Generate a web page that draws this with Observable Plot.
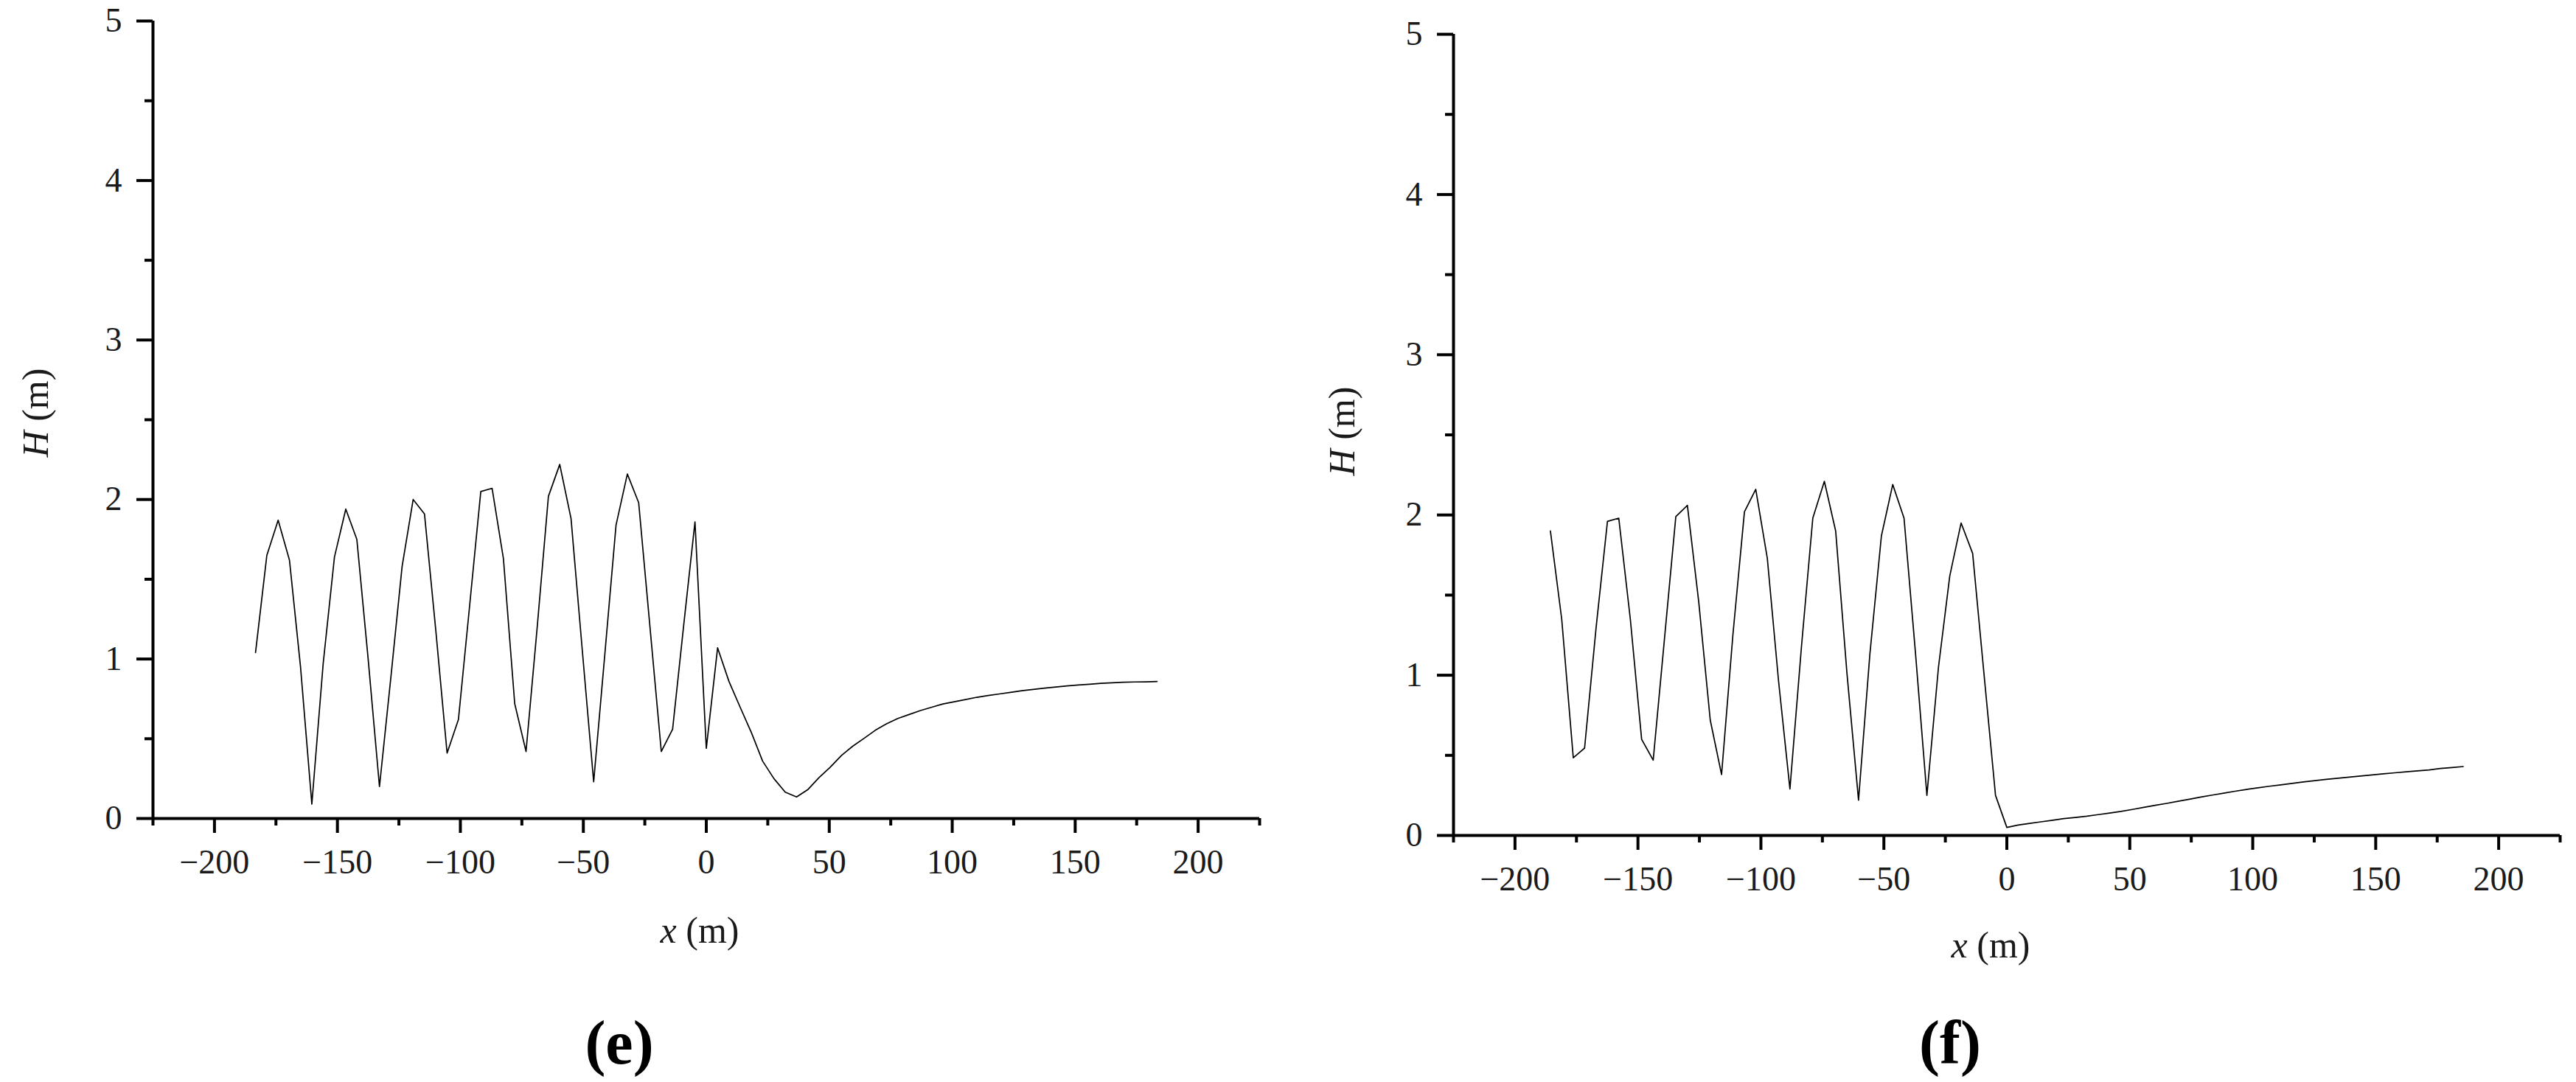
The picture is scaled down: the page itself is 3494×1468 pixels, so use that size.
<!DOCTYPE html>
<html>
<head>
<meta charset="utf-8">
<script src="https://cdn.jsdelivr.net/npm/d3@7"></script>
<script src="https://cdn.jsdelivr.net/npm/@observablehq/plot@0.6"></script>
<style>
  html, body { margin: 0; padding: 0; background: #fff; }
  #wrap { position: relative; width: 3494px; height: 1468px; overflow: hidden; background: #fff; }
  .panel { position: absolute; top: 0; }
  .lbl { position: absolute; font-family: "Liberation Serif", "DejaVu Serif", serif; color: #1a1a1a; white-space: nowrap; }
  .cap { position: absolute; font-family: "Liberation Serif", "DejaVu Serif", serif; font-weight: bold; color: #000; white-space: nowrap; }
</style>
</head>
<body>
<div id="wrap"></div>
<script>
// ---- data: panel (e) ----
const xE = [-183.3,-178.7,-174.1,-169.5,-165.0,-160.4,-155.8,-151.2,-146.6,-142.1,-137.5,-132.9,-128.3,-123.7,-119.2,-114.6,-110.0,-105.4,-100.8,-96.2,-91.7,-87.1,-82.5,-77.9,-73.3,-68.7,-64.2,-59.6,-55.0,-50.4,-45.8,-41.2,-36.7,-32.1,-27.5,-22.9,-18.3,-13.7,-9.2,-4.6,0.0,4.6,9.2,13.7,18.3,22.9,27.5,32.1,36.7,41.2,45.8,50.4,55.0,59.6,64.2,68.7,73.3,77.9,82.5,87.1,91.7,96.2,100.8,105.4,110.0,114.6,119.2,123.7,128.3,132.9,137.5,142.1,146.6,151.2,155.8,160.4,165.0,169.5,174.1,178.7,183.3];
const hE = [1.04,1.65,1.87,1.62,0.95,0.09,0.97,1.64,1.94,1.75,1.00,0.20,0.88,1.58,2.00,1.91,1.18,0.41,0.62,1.34,2.05,2.07,1.63,0.72,0.42,1.21,2.02,2.22,1.88,1.05,0.23,1.04,1.84,2.16,1.98,1.20,0.42,0.56,1.21,1.86,0.44,1.07,0.86,0.70,0.54,0.36,0.25,0.165,0.135,0.18,0.256,0.322,0.396,0.454,0.503,0.553,0.594,0.627,0.652,0.677,0.698,0.718,0.732,0.746,0.760,0.771,0.781,0.791,0.801,0.809,0.817,0.824,0.831,0.837,0.842,0.847,0.851,0.854,0.856,0.857,0.859];

// ---- data: panel (f) ----
const xF = [-185.6,-181.0,-176.3,-171.7,-167.0,-162.4,-157.8,-153.1,-148.5,-143.8,-139.2,-134.6,-129.9,-125.3,-120.6,-116.0,-111.4,-106.7,-102.1,-97.4,-92.8,-88.2,-83.5,-78.9,-74.2,-69.6,-65.0,-60.3,-55.7,-51.0,-46.4,-41.8,-37.1,-32.5,-27.8,-23.2,-18.6,-13.9,-9.3,-4.6,0.0,4.6,9.3,13.9,18.6,23.2,27.8,32.5,37.1,41.8,46.4,51.0,55.7,60.3,65.0,69.6,74.2,78.9,83.5,88.2,92.8,97.4,102.1,106.7,111.4,116.0,120.6,125.3,129.9,134.6,139.2,143.8,148.5,153.1,157.8,162.4,167.0,171.7,176.3,181.0,185.6];
const hF = [1.90,1.35,0.485,0.545,1.30,1.96,1.98,1.35,0.60,0.47,1.23,1.99,2.06,1.46,0.72,0.38,1.25,2.02,2.16,1.73,0.96,0.29,1.18,1.98,2.21,1.90,1.01,0.22,1.13,1.87,2.19,1.98,1.13,0.25,1.05,1.62,1.95,1.76,1.01,0.25,0.05,0.065,0.075,0.085,0.095,0.105,0.112,0.120,0.130,0.140,0.150,0.162,0.175,0.188,0.200,0.213,0.226,0.240,0.252,0.264,0.276,0.287,0.297,0.307,0.316,0.325,0.334,0.342,0.350,0.357,0.364,0.371,0.378,0.385,0.391,0.397,0.403,0.409,0.418,0.424,0.430];

// ---- ticks ----
const xMajorTicks = [-200,-150,-100,-50,0,50,100,150,200];
const xMinorTicks = [-225,-175,-125,-75,-25,25,75,125,175,225];
const yMajorTicks = [0,1,2,3,4,5];
const yMinorTicks = [0.5,1.5,2.5,3.5,4.5];
const xDomain = [-225, 225];
const yDomain = [0, 5];

const FONT = '"Liberation Serif", "DejaVu Serif", serif';

function panel(xs, hs, m) {
  const data = xs.map((x, i) => ({x, h: hs[i]}));
  return Plot.plot({
    width: 1747,
    height: 1300,
    marginLeft: m.left,
    marginRight: m.right,
    marginTop: m.top,
    marginBottom: m.bottom,
    x: {domain: xDomain},
    y: {domain: yDomain},
    style: {fontFamily: FONT, fontSize: "46px", color: "#1a1a1a", background: "white", overflow: "visible"},
    marks: [
      Plot.ruleY([0], {stroke: "#000", strokeWidth: 4}),
      Plot.ruleX([-225], {stroke: "#000", strokeWidth: 4}),
      Plot.axisX({ticks: xMajorTicks, tickSize: 20, tickPadding: 22, strokeWidth: 4, stroke: "#000", label: null, tickFormat: d3.format("d")}),
      Plot.axisX({ticks: xMinorTicks, tickSize: 10, strokeWidth: 4, stroke: "#000", label: null, tickFormat: () => ""}),
      Plot.axisY({ticks: yMajorTicks, tickSize: 22, tickPadding: 20, strokeWidth: 4, stroke: "#000", label: null, tickFormat: d3.format("d")}),
      Plot.axisY({ticks: yMinorTicks, tickSize: 11, strokeWidth: 4, stroke: "#000", label: null, tickFormat: () => ""}),
      Plot.line(data, {x: "x", y: "h", stroke: "#000", strokeWidth: 1.7, curve: "linear"})
    ]
  });
}

const wrap = document.getElementById("wrap");

const left = document.createElement("div");
left.className = "panel"; left.style.left = "0px";
left.appendChild(panel(xE, hE, {left: 207, right: 39, top: 28, bottom: 190}));
wrap.appendChild(left);

const right = document.createElement("div");
right.className = "panel"; right.style.left = "1747px";
right.appendChild(panel(xF, hF, {left: 224, right: 22, top: 46, bottom: 167}));
wrap.appendChild(right);

function label(html, cx, cy, size, rotate, cls) {
  const d = document.createElement("div");
  d.className = cls || "lbl";
  d.innerHTML = html;
  d.style.fontSize = size + "px";
  d.style.lineHeight = "1";
  d.style.left = cx + "px";
  d.style.top = cy + "px";
  d.style.transform = "translate(-50%, -50%)" + (rotate ? " rotate(-90deg)" : "");
  wrap.appendChild(d);
}

// axis titles
label("<i>x</i> (m)", 949, 1262, 50, false);
label("<i>x</i> (m)", 2700, 1282, 50, false);
label("<i>H</i> (m)", 48, 560, 50, true);
label("<i>H</i> (m)", 1820, 585, 50, true);
// panel captions
label("(e)", 840, 1415, 84, false, "cap");
label("(f)", 2645, 1415, 84, false, "cap");
</script>
</body>
</html>
